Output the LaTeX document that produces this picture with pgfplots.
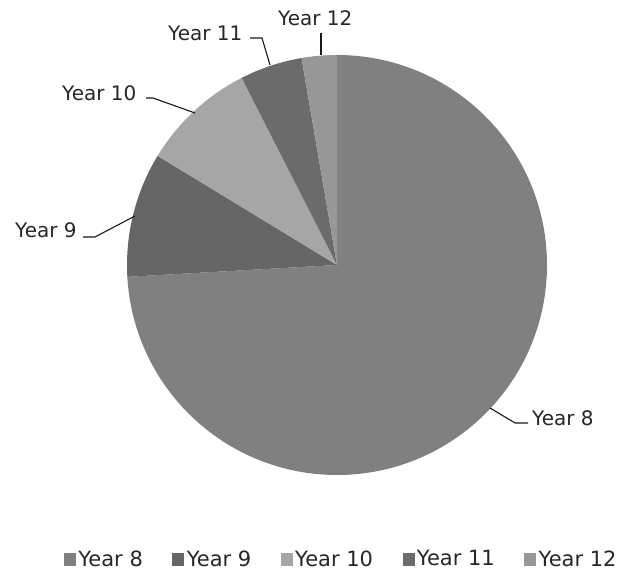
\documentclass[border=0pt]{standalone}
\usepackage{pgfplots}
\pgfplotsset{compat=1.18}
\usepackage{pgfplotstable}
\usepackage{fontspec}
\setmainfont{DejaVu Sans}
\definecolor{c8}{HTML}{808080}
\definecolor{c9}{HTML}{666666}
\definecolor{c10}{HTML}{A6A6A6}
\definecolor{c11}{HTML}{6B6B6B}
\definecolor{c12}{HTML}{979797}
\definecolor{txt}{HTML}{262626}

\pgfplotstableread[col sep=comma]{
label,value,color
Year 8,74.1,c8
Year 9,9.6,c9
Year 10,8.8,c10
Year 11,4.8,c11
Year 12,2.7,c12
}\piedata

\begin{document}
\begin{tikzpicture}
\useasboundingbox (0,0) rectangle (622pt,572pt);
\begin{axis}[
  at={(0,0)}, anchor=south west,
  width=622pt, height=572pt, scale only axis,
  xmin=0, xmax=622, ymin=0, ymax=572,
  enlargelimits=false, hide axis, clip=false,
  legend columns=-1,
  legend cell align=left,
  legend style={at={(axis cs:64,13)}, anchor=west, draw=none, fill=none,
    inner sep=0pt, outer sep=0pt,
    font=\fontsize{21}{25}\selectfont, text=txt,
    cells={anchor=west},
    nodes={inner sep=0pt},
    /tikz/every odd column/.append style={column sep=3pt},
    /tikz/every even column/.append style={column sep=29.5pt}},
]
\def\startang{90}
\pgfplotsforeachungrouped \i in {0,...,4}{%
  \pgfplotstablegetelem{\i}{value}\of\piedata \let\val\pgfplotsretval
  \pgfplotstablegetelem{\i}{color}\of\piedata \let\col\pgfplotsretval
  \pgfmathsetmacro\endang{\startang-3.6*\val}%
  \edef\temp{\noexpand\fill[\col] (axis cs:337,307) -- ++(\startang:210pt) arc[start angle=\startang, end angle=\endang, radius=210pt] -- cycle;}%
  \temp
  \global\let\startang\endang
}

\addlegendimage{legend image code/.code={\fill[c8] (0pt,-6pt) rectangle (11pt,6pt);}}
\addlegendentry{Year 8}
\addlegendimage{legend image code/.code={\fill[c9] (0pt,-6pt) rectangle (11pt,6pt);}}
\addlegendentry{Year 9}
\addlegendimage{legend image code/.code={\fill[c10] (0pt,-6pt) rectangle (11pt,6pt);}}
\addlegendentry{Year 10}
\addlegendimage{legend image code/.code={\fill[c11] (0pt,-6pt) rectangle (11pt,6pt);}}
\addlegendentry{Year 11}
\addlegendimage{legend image code/.code={\fill[c12] (0pt,-6pt) rectangle (11pt,6pt);}}
\addlegendentry{Year 12}

% leader lines
\begin{scope}[line width=1.1pt, draw=black!90]
\draw (axis cs:321,539) -- (axis cs:321,517);
\draw (axis cs:250,534) -- (axis cs:262,534) -- (axis cs:270,507);
\draw (axis cs:146,474) -- (axis cs:153,474) -- (axis cs:195,459);
\draw (axis cs:83,335) -- (axis cs:95,335) -- (axis cs:135,356);
\draw (axis cs:490,164) -- (axis cs:515,149) -- (axis cs:528,149);
\end{scope}

% labels
\begin{scope}[every node/.style={anchor=west, inner sep=0pt, text=txt, font=\fontsize{20}{24}\selectfont}]
\node at (axis cs:278,554) {Year 12};
\node at (axis cs:168,539) {Year 11};
\node at (axis cs:62,479) {Year 10};
\node at (axis cs:15,342) {Year 9};
\node at (axis cs:532,154) {Year 8};
\end{scope}
\end{axis}
\end{tikzpicture}
\end{document}
